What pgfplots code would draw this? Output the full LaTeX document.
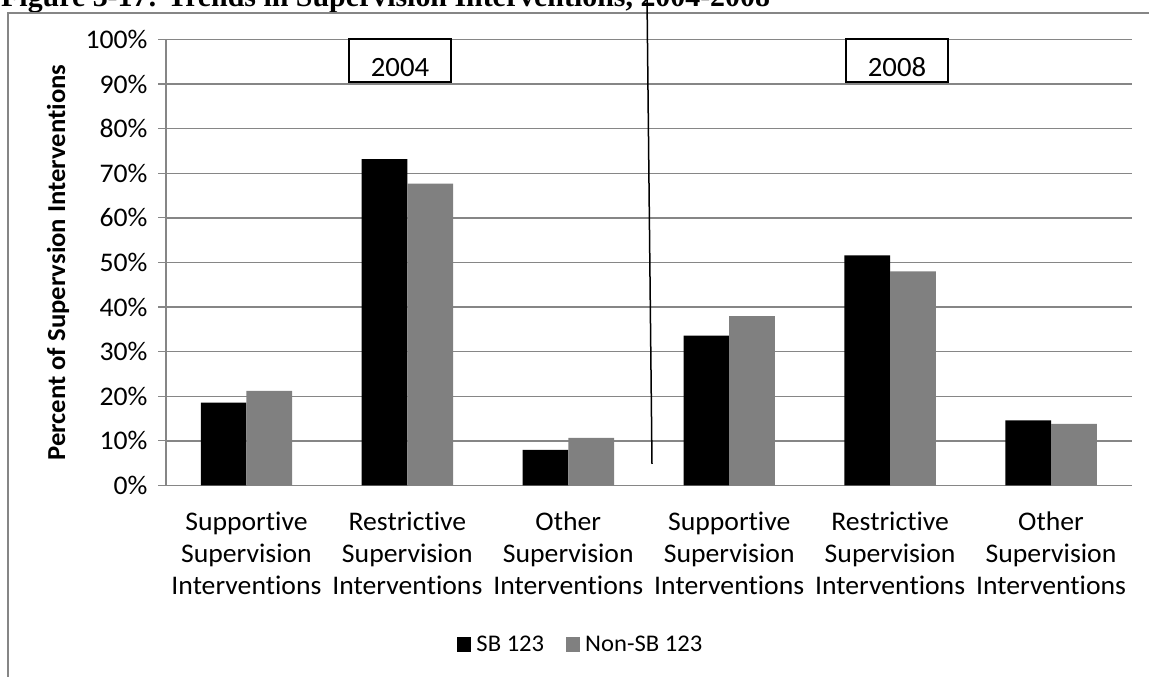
\documentclass[border=0pt]{standalone}
\usepackage{fontspec}
\setmainfont{Carlito}[FakeStretch=1.03, Ligatures=NoCommon]
\newfontfamily\titlefont{Liberation Serif}
\usepackage{pgfplots}
\usepackage{pgfplotstable}
\pgfplotsset{compat=1.18}

\definecolor{gridgray}{HTML}{868686}
\definecolor{bargray}{HTML}{808080}

% category positions: 2004 = 0.5..2.5, 2008 = 3.5..5.5
\pgfplotstableread{
x    sb    non
0.5  18.6  21.2
1.5  73.2  67.7
2.5  8.0   10.7
3.5  33.6  38.0
4.5  51.6  48.0
5.5  14.6  13.8
}\supdata

\newcommand\lbl{\fontsize{27}{32}\selectfont}

\begin{document}
\begin{tikzpicture}[x=1bp,y=1bp]
\useasboundingbox (0,0) rectangle (1149,677);
\clip (0,0) rectangle (1149,677);

\node[anchor=base west, inner sep=0, font=\titlefont\bfseries\fontsize{30}{36}\selectfont]
  at (1,670) {Figure 3-17: Trends in Supervision Interventions, 2004-2008};
\draw[gridgray, line width=1.2bp] (8,-5) -- (8,664) -- (1160,664);

\begin{axis}[
  at={(166bp,191.5bp)}, anchor=south west,
  scale only axis, width=965.5bp, height=446bp,
  xmin=0, xmax=6, ymin=0, ymax=100,
  ybar=0pt, bar width=0.284,
  axis x line*=bottom, axis y line*=left,
  axis line style={gridgray, line width=1.3bp, -},
  tick align=outside,
  major tick length=8bp, minor tick length=8bp,
  every tick/.style={gridgray, line width=1.2bp},
  xtick={0.5,1.5,...,5.5},
  xticklabels={
    Supportive\\Supervision\\Interventions,
    Restrictive\\Supervision\\Interventions,
    Other\\Supervision\\Interventions,
    Supportive\\Supervision\\Interventions,
    Restrictive\\Supervision\\Interventions,
    Other\\Supervision\\Interventions},
  xtick style={draw=none},
  minor xtick={0,1,...,6},
  x tick label style={align=center, font=\lbl, yshift=-15bp},
  ytick={0,10,...,100},
  yticklabel={\pgfmathprintnumber{\tick}\%},
  /pgf/number format/assume math mode=true,
  y tick label style={font=\lbl, xshift=-7bp},
  ymajorgrids, grid style={gridgray, line width=1.3bp},
  ylabel={Percent of Supervsion Interventions},
  every axis y label/.style={at={(axis description cs:-0.1119,0.5)},
    rotate=90, anchor=center, font=\bfseries\fontsize{26}{31}\selectfont},
  legend columns=2,
  legend style={at={(0.4297,-0.3576)}, anchor=center, draw=none,
    font=\fontsize{24}{29}\selectfont,
    /tikz/every odd column/.append style={column sep=3bp},
    /tikz/every even column/.append style={column sep=20bp}},
  legend image code/.code={\fill[#1] (0bp,-7bp) rectangle (14bp,7.5bp);},
]
\addplot[fill=black, draw=none] table[x=x, y=sb] {\supdata};
\addplot[fill=bargray, draw=none] table[x=x, y=non] {\supdata};
\legend{SB 123, Non-SB 123}
\end{axis}

\draw[black, line width=1.3bp, fill=white] (349,638) rectangle (451,595);
\node[anchor=base, font=\fontsize{28}{33}\selectfont] at (400,600) {2004};
\draw[black, line width=1.3bp, fill=white] (846,638) rectangle (948,595);
\node[anchor=base, font=\fontsize{28}{33}\selectfont] at (897,600) {2008};
\draw[black, line width=1.5bp] (647,680) -- (652,213);
\end{tikzpicture}
\end{document}
